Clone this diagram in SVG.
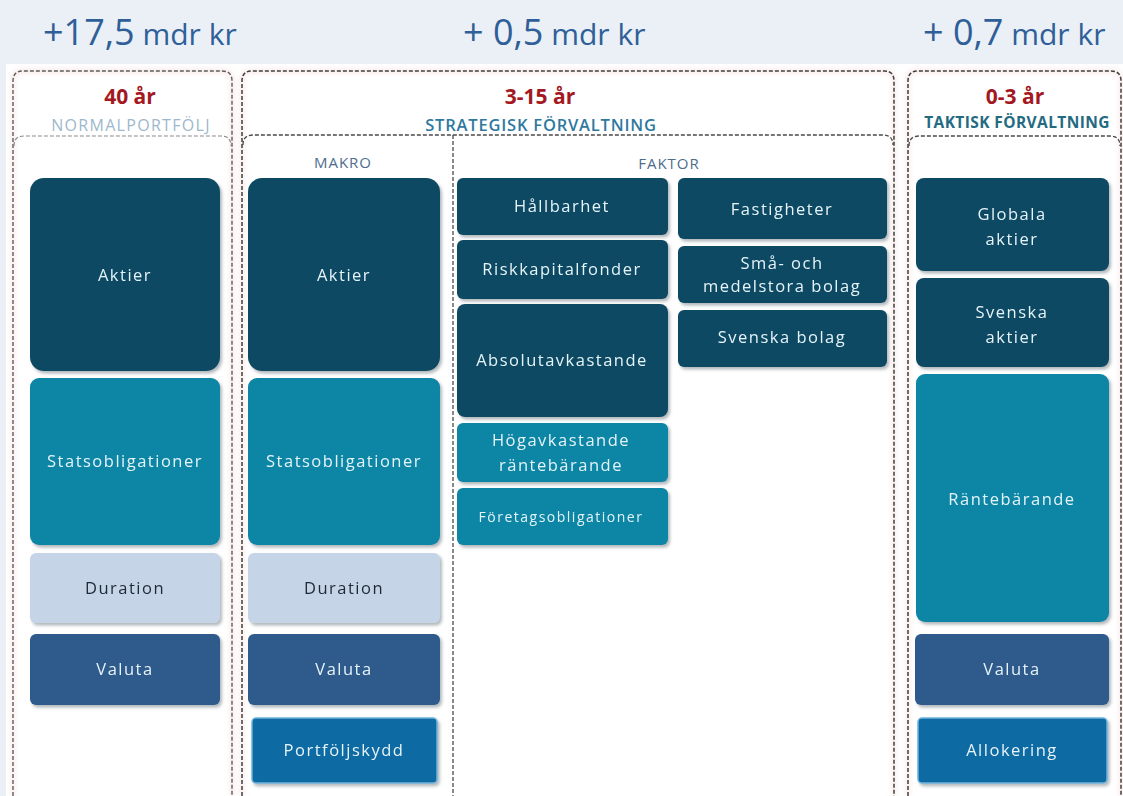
<svg xmlns="http://www.w3.org/2000/svg" width="1123" height="796" viewBox="0 0 1123 796">
  <defs>
    <style>
      .frame{fill:none;stroke:#3f3f3f;stroke-width:1.5;stroke-dasharray:4 2}
      .frame1{fill:none;stroke:#5e5e5e;stroke-width:1.4;stroke-dasharray:4 2}
      .sep{fill:none;stroke:#4a4a4a;stroke-width:1.3;stroke-dasharray:4 2}
      .sepl{fill:none;stroke:#8a8a8a;stroke-width:1.2;stroke-dasharray:4 2}
      .glow{fill:none;stroke:#f3c9c9;stroke-width:5;opacity:0.35}
      .val{font-family:"Open Sans","Liberation Sans",sans-serif;fill:#2f5f98}
      .yr{font-family:"Open Sans","Liberation Sans",sans-serif;font-weight:700;font-size:21px;fill:#a3191f;text-anchor:middle}
      .sub{font-family:"Open Sans","Liberation Sans",sans-serif;text-anchor:middle}
      .lbl{font-family:"Open Sans","Liberation Sans",sans-serif;font-size:16.5px;letter-spacing:1.5px;fill:#e6f3f8;text-anchor:middle}
      .dk{fill:#0c4a63}
      .tl{fill:#0a86a6}
      .du{fill:#c6d4e7}
      .va{fill:#2e5a8c}
      .al{fill:#0f6aa2;stroke:#6db3dc;stroke-width:1.5}
      .box{filter:url(#sh)}
    </style>
    <filter id="sh" x="-10%" y="-10%" width="120%" height="125%">
      <feDropShadow dx="2" dy="2.5" stdDeviation="1.6" flood-color="#55606a" flood-opacity="0.45"/>
    </filter>
    <filter id="bl" x="-5%" y="-5%" width="110%" height="110%">
      <feGaussianBlur stdDeviation="2"/>
    </filter>
  </defs>

  <rect x="0" y="0" width="1123" height="796" fill="#eaf0f6"/>
  <rect x="6" y="64" width="1117" height="732" fill="#ffffff"/>

  <g id="values">
    <text class="val" x="43" y="45"><tspan font-size="36">+17,5</tspan><tspan font-size="30"> mdr kr</tspan></text>
    <text class="val" x="463" y="45"><tspan font-size="36">+ 0,5</tspan><tspan font-size="30"> mdr kr</tspan></text>
    <text class="val" x="923" y="45"><tspan font-size="36">+ 0,7</tspan><tspan font-size="30"> mdr kr</tspan></text>
  </g>

  <g id="frames">
    <g filter="url(#bl)">
      <path class="glow" d="M13,796 V81 Q13,71 23,71 H222 Q232,71 232,81 V796"/>
      <path class="glow" d="M242,796 V81 Q242,71 252,71 H884 Q894,71 894,81 V796"/>
      <path class="glow" d="M908,796 V81 Q908,71 918,71 H1111 Q1121,71 1121,81 V796"/>
    </g>
    <path class="frame1" d="M13,796 V81 Q13,71 23,71 H222 Q232,71 232,81 V796"/>
    <path class="frame" d="M242,796 V81 Q242,71 252,71 H884 Q894,71 894,81 V796"/>
    <path class="frame" d="M908,796 V81 Q908,71 918,71 H1111 Q1121,71 1121,81 V796"/>
    <path class="sepl" d="M14,146 Q14,136 24,136 H221 Q231,136 231,146"/>
    <path class="sep" d="M243,145 Q243,135 253,135 H883 Q893,135 893,145"/>
    <path class="sep" d="M909,146 Q909,136 919,136 H1110 Q1120,136 1120,146"/>
    <path class="sep" d="M453,135 V796"/>
  </g>

  <g id="header-normal">
    <text class="yr" x="130" y="104">40 år</text>
    <text class="sub" x="131" y="131" font-size="16" letter-spacing="1.3" fill="#9db8cc">NORMALPORTFÖLJ</text>
  </g>
  <g id="header-strategisk">
    <text class="yr" x="540" y="104">3-15 år</text>
    <text class="sub" x="541" y="131" font-size="16.5" font-weight="600" letter-spacing="0.8" fill="#2f78a0">STRATEGISK FÖRVALTNING</text>
    <text class="sub" x="343" y="168" font-size="15" letter-spacing="1" fill="#4d6d8c">MAKRO</text>
    <text class="sub" x="669" y="169" font-size="15" letter-spacing="1" fill="#4d6d8c">FAKTOR</text>
  </g>
  <g id="header-taktisk">
    <text class="yr" x="1015" y="104">0-3 år</text>
    <text class="sub" x="1017" y="128" font-size="15.5" font-weight="700" letter-spacing="0.4" fill="#246b82">TAKTISK FÖRVALTNING</text>
  </g>

  <!-- Normalportfölj column -->
  <g id="np-aktier" class="box">
    <rect class="dk" x="30" y="178" width="190" height="193" rx="14"/>
    <text class="lbl" x="125" y="281">Aktier</text>
  </g>
  <g id="np-stats" class="box">
    <rect class="tl" x="30" y="378" width="190" height="167" rx="9"/>
    <text class="lbl" x="125" y="467">Statsobligationer</text>
  </g>
  <g id="np-duration" class="box">
    <rect class="du" x="30" y="553" width="190" height="70" rx="6"/>
    <text class="lbl" x="125" y="594" style="fill:#1e2a38">Duration</text>
  </g>
  <g id="np-valuta" class="box">
    <rect class="va" x="30" y="634" width="190" height="71" rx="6"/>
    <text class="lbl" x="125" y="675">Valuta</text>
  </g>

  <!-- Makro column -->
  <g id="mk-aktier" class="box">
    <rect class="dk" x="248" y="178" width="192" height="193" rx="14"/>
    <text class="lbl" x="344" y="281">Aktier</text>
  </g>
  <g id="mk-stats" class="box">
    <rect class="tl" x="248" y="378" width="192" height="167" rx="9"/>
    <text class="lbl" x="344" y="467">Statsobligationer</text>
  </g>
  <g id="mk-duration" class="box">
    <rect class="du" x="248" y="553" width="192" height="70" rx="6"/>
    <text class="lbl" x="344" y="594" style="fill:#1e2a38">Duration</text>
  </g>
  <g id="mk-valuta" class="box">
    <rect class="va" x="248" y="634" width="192" height="71" rx="6"/>
    <text class="lbl" x="344" y="675">Valuta</text>
  </g>
  <g id="mk-portfoljskydd" class="box">
    <rect class="al" x="252" y="718" width="185" height="65" rx="4"/>
    <text class="lbl" x="344" y="756">Portföljskydd</text>
  </g>

  <!-- Faktor column -->
  <g id="fk-hallbarhet" class="box">
    <rect class="dk" x="457" y="178" width="211" height="57" rx="6"/>
    <text class="lbl" x="562" y="212">Hållbarhet</text>
  </g>
  <g id="fk-risk" class="box">
    <rect class="dk" x="457" y="240" width="211" height="59" rx="6"/>
    <text class="lbl" x="562" y="275">Riskkapitalfonder</text>
  </g>
  <g id="fk-absolut" class="box">
    <rect class="dk" x="457" y="304" width="211" height="113" rx="8"/>
    <text class="lbl" x="562" y="366">Absolutavkastande</text>
  </g>
  <g id="fk-hogavk" class="box">
    <rect class="tl" x="457" y="423" width="211" height="59" rx="6"/>
    <text class="lbl" x="561" y="446">Högavkastande</text>
    <text class="lbl" x="561" y="471">räntebärande</text>
  </g>
  <g id="fk-foretag" class="box">
    <rect class="tl" x="457" y="488" width="211" height="57" rx="6"/>
    <text class="lbl" x="561" y="522" style="font-size:14px">Företagsobligationer</text>
  </g>
  <g id="fk-fastigheter" class="box">
    <rect class="dk" x="678" y="178" width="209" height="61" rx="6"/>
    <text class="lbl" x="782" y="215">Fastigheter</text>
  </g>
  <g id="fk-sma" class="box">
    <rect class="dk" x="678" y="246" width="209" height="57" rx="6"/>
    <text class="lbl" x="782" y="269">Små- och</text>
    <text class="lbl" x="782" y="292">medelstora bolag</text>
  </g>
  <g id="fk-svenska" class="box">
    <rect class="dk" x="678" y="310" width="209" height="57" rx="6"/>
    <text class="lbl" x="782" y="343">Svenska bolag</text>
  </g>

  <!-- Taktisk column -->
  <g id="tk-globala" class="box">
    <rect class="dk" x="916" y="178" width="193" height="93" rx="8"/>
    <text class="lbl" x="1012" y="220">Globala</text>
    <text class="lbl" x="1012" y="245">aktier</text>
  </g>
  <g id="tk-svenska" class="box">
    <rect class="dk" x="916" y="278" width="193" height="89" rx="8"/>
    <text class="lbl" x="1012" y="318">Svenska</text>
    <text class="lbl" x="1012" y="343">aktier</text>
  </g>
  <g id="tk-rante" class="box">
    <rect class="tl" x="916" y="374" width="193" height="248" rx="9"/>
    <text class="lbl" x="1012" y="505">Räntebärande</text>
  </g>
  <g id="tk-valuta" class="box">
    <rect class="va" x="915" y="634" width="194" height="71" rx="6"/>
    <text class="lbl" x="1012" y="675">Valuta</text>
  </g>
  <g id="tk-allokering" class="box">
    <rect class="al" x="918" y="718" width="189" height="65" rx="4"/>
    <text class="lbl" x="1012" y="756">Allokering</text>
  </g>
</svg>
